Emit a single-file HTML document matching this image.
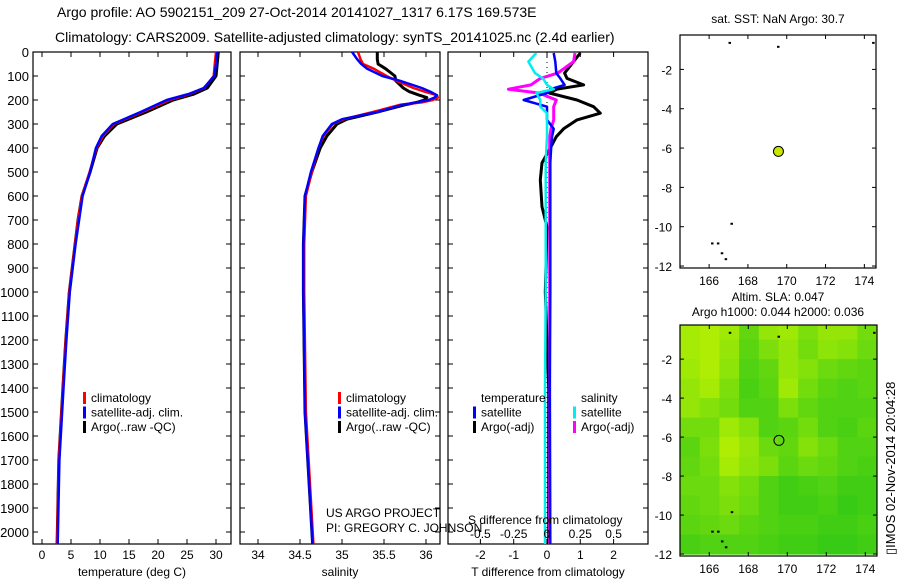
<!DOCTYPE html>
<html><head><meta charset="utf-8">
<style>
body{margin:0;background:#fff;}
svg{display:block;font-family:"Liberation Sans",sans-serif;}
</style></head>
<body>
<svg id="fig" width="900" height="580" viewBox="0 0 900 580" xmlns="http://www.w3.org/2000/svg">
<text x="57" y="17" font-size="14">Argo profile: AO 5902151_209 27-Oct-2014 20141027_1317 6.17S 169.573E</text>
<text x="55" y="42" font-size="14">Climatology: CARS2009. Satellite-adjusted climatology: synTS_20141025.nc (2.4d earlier)</text>
<g id="g"></g>
<text transform="translate(895,555) rotate(-90)" font-size="13">▯IMOS 02-Nov-2014 20:04:28</text>
</svg>
<script>
// ---- data ----
const depthGrid = [0,50,100,150,175,200,250,300,350,400,500,600,700,800,900,1000,1200,1400,1700,2050];
const tempArgo  = [30.4,30.2,30.0,28.5,26.2,22.6,18.0,12.9,10.8,9.5,8.3,6.9,6.2,5.7,5.2,4.7,4.1,3.6,2.9,2.6];
const tempClim  = [30.0,29.8,29.6,28.0,25.5,22.0,17.3,12.4,10.5,9.4,8.2,6.9,6.2,5.7,5.2,4.7,4.1,3.6,2.9,2.6];
const tempSat   = [30.2,30.0,29.7,27.9,25.3,21.5,17.0,12.2,10.3,9.3,8.3,7.0,6.4,5.8,5.3,4.8,4.2,3.7,3.0,2.7];
const salDepth  = [0,30,50,70,100,120,150,165,180,190,200,210,220,250,280,300,350,400,500,600,800,1000,1500,2050];
const salArgo   = [35.42,35.42,35.43,35.52,35.63,35.64,35.73,35.80,35.92,36.01,35.98,35.89,35.75,35.42,35.06,34.94,34.82,34.74,34.64,34.56,34.54,34.54,34.56,34.65];
const salClim   = [35.19,35.22,35.25,35.38,35.53,35.65,35.85,35.98,36.13,36.14,36.08,35.95,35.69,35.37,35.02,34.89,34.78,34.72,34.64,34.57,34.55,34.55,34.57,34.66];
const salSat    = [35.12,35.18,35.23,35.30,35.48,35.69,35.95,36.05,36.13,36.10,36.03,35.89,35.72,35.42,35.00,34.88,34.77,34.72,34.63,34.56,34.54,34.54,34.56,34.65];
const diffDepth = [4,40,88,110,137,155,171,200,228,255,283,320,353,408,462,533,645,729,1000,1400,2050];
const dTArgo    = [1.0,0.8,0.53,0.6,1.1,0.3,0.07,0.9,1.4,1.6,0.9,0.5,0.28,0.07,-0.15,-0.2,-0.15,0.0,-0.05,0.05,0.05];
const dTSat     = [0.2,0.25,0.28,0.4,0.53,0.1,0.0,-0.7,0.0,0.0,0.0,0.2,0.15,0.12,0.1,0.1,0.1,0.1,0.1,0.08,0.1];
const dSSat     = [-0.08,-0.14,-0.09,-0.03,0.0,0.05,-0.08,-0.05,-0.05,0.0,0.0,0.0,0.0,-0.005,-0.01,-0.01,-0.01,-0.01,-0.01,-0.015,-0.015];
const dSArgo    = [0.21,0.2,0.08,-0.05,-0.12,-0.29,-0.06,0.07,0.05,0.05,0.05,0.03,0.02,0.02,0.02,0.02,0.02,0.02,0.02,0.02,0.02];
const depthTicks = [0,100,200,300,400,500,600,700,800,900,1000,1100,1200,1300,1400,1500,1600,1700,1800,1900,2000];
const tempTicks = [0,5,10,15,20,25,30];
const salTicks = [34,34.5,35,35.5,36];
const dTTicks = [-2,-1,0,1,2];
const dSTicks = [-0.5,-0.25,0,0.25,0.5];
const lonTicks = [166,168,170,172,174];
const latTicks = [-2,-4,-6,-8,-10,-12];
const argoLon = 169.573, argoLat = -6.17;
const slaGrid = [
[.8,.85,.75,.4,.7,.75,.55,.7,.7,.5],
[.8,.85,.7,.35,.55,.7,.5,.65,.6,.45],
[.75,.85,.65,.3,.4,.7,.6,.45,.4,.35],
[.7,.8,.55,.25,.35,.75,.5,.35,.3,.35],
[.7,.6,.5,.3,.3,.55,.4,.3,.3,.3],
[.5,.5,.75,.6,.3,.35,.5,.3,.25,.35],
[.35,.55,.85,.7,.45,.4,.6,.45,.3,.3],
[.4,.5,.8,.65,.55,.35,.45,.4,.3,.25],
[.45,.45,.6,.5,.3,.2,.25,.3,.2,.2],
[.4,.45,.55,.45,.3,.2,.2,.25,.15,.2],
[.35,.4,.45,.35,.3,.25,.25,.2,.2,.25],
[.25,.3,.3,.3,.25,.2,.2,.15,.15,.2]];

// ---- helpers ----
const NS="http://www.w3.org/2000/svg";
const G=document.getElementById('g');
function el(tag,attrs,parent){const e=document.createElementNS(NS,tag);for(const k in attrs)e.setAttribute(k,attrs[k]);(parent||G).appendChild(e);return e;}
function txt(s,x,y,attrs,parent){const t=el('text',Object.assign({x:x,y:y,'font-size':12},attrs||{}),parent);t.textContent=s;return t;}
const PT=52, PB=544;
const yD=d=>PT+d*0.24;
const xT=v=>42+v*5.8;
const xS=v=>258+(v-34)*84;
const xDT=v=>547+v*33.3;
const xDS=v=>547+v*33.3*4;

function frame(x0,x1,name){
  const r=el('rect',{x:x0,y:PT,width:x1-x0,height:PB-PT,fill:'none',stroke:'#000','stroke-width':1.2});
  
  
  depthTicks.forEach(d=>{
    el('line',{x1:x0,x2:x0+5,y1:yD(d),y2:yD(d),stroke:'#000'});
    el('line',{x1:x1-5,x2:x1,y1:yD(d),y2:yD(d),stroke:'#000'});
  });
}
function xticks(vals,fx,labels,y0){
  vals.forEach(v=>{
    const x=fx(v);
    el('line',{x1:x,x2:x,y1:PB,y2:PB-5,stroke:'#000'});
    el('line',{x1:x,x2:x,y1:PT,y2:PT+5,stroke:'#000'});
    const t=txt(String(v),x,y0,{'text-anchor':'middle'});
    
    
  });
}
function line(xs,ds,fx,color,w,name){
  const p=xs.map((v,i)=>(i?'L':'M')+fx(v).toFixed(1)+','+yD(ds[i]).toFixed(1)).join('');
  const e=el('path',{d:p,fill:'none',stroke:color,'stroke-width':w,'stroke-linejoin':'round'});
  
  
}

depthTicks.forEach(d=>{
  const t=txt(String(d),29,yD(d)+5,{'text-anchor':'end','font-size':13});
  
  
});

frame(33,231,'temperature-panel');
xticks(tempTicks,xT,null,559);
line(tempArgo,depthGrid,xT,'#000',3,'temp-argo-line');
line(tempClim,depthGrid,xT,'#f00',2.5,'temp-climatology-line');
line(tempSat,depthGrid,xT,'#00f',2.5,'temp-satellite-line');
let t=txt('temperature (deg C)',132,576,{'text-anchor':'middle'});



frame(240,440,'salinity-panel');
xticks(salTicks,xS,null,559);
line(salArgo,salDepth,xS,'#000',3,'sal-argo-line');
line(salClim,salDepth,xS,'#f00',2.5,'sal-climatology-line');
line(salSat,salDepth,xS,'#00f',2.5,'sal-satellite-line');
t=txt('salinity',340,576,{'text-anchor':'middle'});



function legend(x,y,items,name){
  items.forEach((it,i)=>{
    const yy=y+i*14.5;
    el('rect',{x:x,y:yy-10,width:3,height:12,fill:it[1]});
    const tt=txt(it[0],x+8,yy,{});
    
    
  });
}
const L=[['climatology','#f00'],['satellite-adj. clim.','#00f'],['Argo(..raw -QC)','#000']];
legend(83,402,L,'temp-legend');
legend(338,402,L,'sal-legend');
t=txt('US ARGO PROJECT',326,517,{});
t=txt('PI: GREGORY C. JOHNSON',326,532,{});

frame(448,648,'difference-panel');
xticks(dTTicks,xDT,null,559);
el('line',{x1:547,x2:547,y1:PT,y2:PB,stroke:'#000','stroke-dasharray':'1,4'});
line(dTArgo,diffDepth,xDT,'#000',3,'dT-argo-line');
line(dSArgo,diffDepth,xDS,'#f0f',3,'dS-argo-line');
line(dTSat,diffDepth,xDT,'#00f',2.5,'dT-satellite-line');
line(dSSat,diffDepth,xDS,'#0ee',2.5,'dS-satellite-line');
dSTicks.forEach(v=>{const q=txt(String(v),xDS(v),538,{'text-anchor':'middle'});});
t=txt('S difference from climatology',468,524,{});
t=txt('T difference from climatology',548,576,{'text-anchor':'middle'});
t=txt('temperature',481,402,{});
t=txt('salinity',581,402,{});
legend(473,416.5,[['satellite','#00f'],['Argo(-adj)','#000']],'dT-legend');
legend(573,416.5,[['satellite','#0ee'],['Argo(-adj)','#f0f']],'dS-legend');

function map(x0,y0,x1,y1,name,latTop){
  const lonL=164.5,lonR=174.6,latB=-12.1;
  const fx=l=>x0+(l-lonL)/(lonR-lonL)*(x1-x0);
  const fy=l=>y0+(latTop-l)/(latTop-latB)*(y1-y0);
  const r=el('rect',{x:x0,y:y0,width:x1-x0,height:y1-y0,fill:'#fff',stroke:'none'});
  
  
  return {fx,fy,draw(){
    const f=el('rect',{x:x0,y:y0,width:x1-x0,height:y1-y0,fill:'none',stroke:'#000','stroke-width':1.2});
    
    
    lonTicks.forEach(v=>{const x=fx(v);el('line',{x1:x,x2:x,y1:y1,y2:y1-4,stroke:'#000'});el('line',{x1:x,x2:x,y1:y0,y2:y0+4,stroke:'#000'});
      const q=txt(String(v),x,y1+17,{'text-anchor':'middle'});});
    latTicks.forEach(v=>{const y=fy(v);el('line',{x1:x0,x2:x0+4,y1:y,y2:y,stroke:'#000'});el('line',{x1:x1-4,x2:x1,y1:y,y2:y,stroke:'#000'});
      const q=txt(String(v),x0-8,y+5,{'text-anchor':'end'});});
    [[169.5,-0.8],[167,-0.6],[174.4,-0.6],[166.1,-10.8],[166.4,-10.8],[167.1,-9.8],[166.6,-11.3],[166.8,-11.6]].forEach(p=>el('rect',{x:fx(p[0]),y:fy(p[1]),width:2.5,height:2,fill:'#000'}));
  }};
}
const m1=map(680,35,876,268,'sst-map',-0.25);
m1.draw();
let c=el('circle',{cx:m1.fx(argoLon),cy:m1.fy(argoLat),r:5,fill:'#c8e600',stroke:'#000'});


t=txt('sat. SST: NaN Argo: 30.7',778,23,{'text-anchor':'middle'});

const m2=map(680,325,877,556,'sla-map',-0.25);
const defs=el('defs',{});
const cp=el('clipPath',{id:'clip2'},defs);
el('rect',{x:680,y:325,width:197,height:231},cp);
const hg=el('g',{'clip-path':'url(#clip2)'});
slaGrid.forEach((row,i)=>row.forEach((v,j)=>{
  const lon0=164.5+j*1.01, lat0=-i;
  const x=m2.fx(lon0), y=m2.fy(lat0);
  const w=m2.fx(lon0+1.01)-x+0.6, h=m2.fy(lat0-1)-y+0.6;
  const R=Math.round(30+v*170),Gc=Math.round(195+v*50),B=Math.round(25-v*25);
  const cell=el('rect',{x:x,y:y,width:w,height:h,fill:`rgb(${R},${Gc},${B})`},hg);
  
  
}));
m2.draw();
c=el('circle',{cx:m2.fx(argoLon),cy:m2.fy(argoLat),r:5,fill:'none',stroke:'#000'});


t=txt('Altim. SLA: 0.047',778,301,{'text-anchor':'middle'});
t=txt('Argo h1000: 0.044 h2000: 0.036',778,316,{'text-anchor':'middle'});
</script>
</body></html>
